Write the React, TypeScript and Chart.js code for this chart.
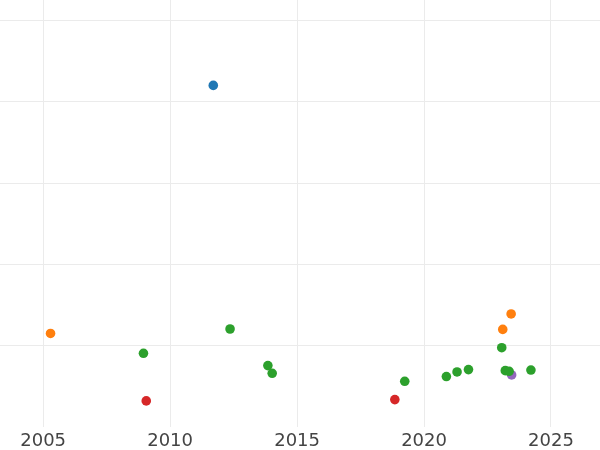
import React, { useEffect, useRef } from "react";
import { Chart, registerables } from "chart.js";

Chart.register(...registerables);

const xTicks = [2005, 2010, 2015, 2020, 2025];

const blueX = [2011.7];
const blueY = [4.2];

const orangeX = [2005.29, 2023.1, 2023.43];
const orangeY = [1.15, 1.2, 1.39];

const greenX = [2008.95, 2012.36, 2013.85, 2014.02, 2019.24, 2020.88, 2021.3, 2021.75, 2023.06, 2023.2, 2023.35, 2024.21];
const greenY = [0.906, 1.205, 0.755, 0.66, 0.562, 0.62, 0.677, 0.706, 0.975, 0.693, 0.685, 0.7];

const redX = [2009.06, 2018.85];
const redY = [0.321, 0.337];

const purpleX = [2023.45];
const purpleY = [0.64];

const pts = (xs: number[], ys: number[]) => xs.map((x, i) => ({ x, y: ys[i] }));

export default function App() {
  const ref = useRef<HTMLCanvasElement | null>(null);
  useEffect(() => {
    if (!ref.current) return;
    const mk = (data: { x: number; y: number }[], color: string) => ({
      data,
      backgroundColor: color,
      borderWidth: 0,
      pointRadius: 4.8,
      pointHoverRadius: 4.8,
    });
    const chart = new Chart(ref.current, {
      type: "scatter",
      data: {
        datasets: [
          mk(pts(greenX, greenY), "#2ca02c"),
          mk(pts(blueX, blueY), "#1f77b4"),
          mk(pts(orangeX, orangeY), "#ff7f0e"),
          mk(pts(redX, redY), "#d62728"),
          mk(pts(purpleX, purpleY), "#9467bd"),
        ],
      },
      options: {
        animation: false,
        responsive: false,
        layout: { padding: 0, autoPadding: false },
        plugins: { legend: { display: false }, tooltip: { enabled: false } },
        scales: {
          x: {
            type: "linear",
            min: 2003.3,
            max: 2026.93,
            border: { display: false },
            grid: { color: "#ebebeb", lineWidth: 1, drawTicks: false },
            afterBuildTicks: (axis: any) => {
              axis.ticks = xTicks.map((v) => ({ value: v }));
            },
            afterFit: (axis: any) => {
              axis.height = 23;
            },
            ticks: {
              includeBounds: false,
              padding: 5,
              color: "#444444",
              font: { family: "DejaVu Sans", size: 18, lineHeight: 1 },
              maxRotation: 0,
              callback: (v: any) => String(v),
            },
          },
          y: {
            type: "linear",
            min: 0,
            max: 5.25,
            border: { display: false },
            grid: {
              color: (ctx: any) => (ctx.tick && ctx.tick.value === 0 ? "rgba(0,0,0,0)" : "#ebebeb"),
              lineWidth: 1,
              drawTicks: false,
            },
            ticks: { display: false, stepSize: 1, includeBounds: false },
          },
        },
      },
    });
    return () => chart.destroy();
  }, []);
  return (
    <div style={{ position: "fixed", left: 0, top: 0, width: 600, height: 450, background: "#ffffff" }}>
      <canvas ref={ref} width={600} height={450} style={{ width: 600, height: 450 }} />
    </div>
  );
}
